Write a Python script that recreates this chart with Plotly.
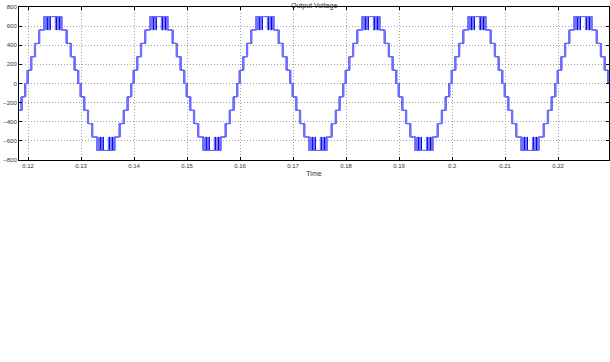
import plotly.graph_objects as go

# ---- data ----
levels = [0, 140, 280, 420, 560, 700]            # staircase levels (V)
switch_angles_deg = [6, 18, 31, 45, 63]           # up-switching angles in first quarter
cycle_starts = [0.0997, 0.1197, 0.1397, 0.1597, 0.1797, 0.1997, 0.2197]  # rising zero crossings (s)
period = 0.02

light_edge_pulses = [(-4.0, -3.5), (-1.8, -1.4)]   # deg, relative to each edge
dark_edge_pulses = [(-2.6, -2.3)]
light_plateau_dips = [(67, 68), (75, 76), (98, 99), (107, 108)]
dark_plateau_dips = [(70, 71), (80, 81), (102, 103), (111, 112)]

xticks = [0.12, 0.13, 0.14, 0.15, 0.16, 0.17, 0.18, 0.19, 0.20, 0.21, 0.22]
xtick_text = ["0.12", "0.13", "0.14", "0.15", "0.16", "0.17", "0.18", "0.19", "0.2", "0.21", "0.22"]
yticks = [-800, -600, -400, -200, 0, 200, 400, 600, 800]


def level_at(angle, edge_pulses, dips):
    """Staircase level (index) at angle within a half cycle (0..180)."""
    a = angle if angle <= 90 else 180 - angle
    k = 0
    for i, sa in enumerate(switch_angles_deg):
        if a >= sa:
            k = i + 1
        else:
            for p0, p1 in edge_pulses:
                if sa + p0 <= a < sa + p1:
                    k = i + 1
                    break
    if k == len(switch_angles_deg):
        for d0, d1 in dips:
            if d0 <= angle < d1:
                k -= 1
                break
    return k


def build(edge_pulses, dips):
    deg = period / 360.0
    marks = set()
    for sa in switch_angles_deg:
        marks.update([sa, 180 - sa])
        for p0, p1 in edge_pulses:
            marks.update([sa + p0, sa + p1, 180 - sa - p0, 180 - sa - p1])
    for d0, d1 in dips:
        marks.update([d0, d1])
    marks.update([0, 180])
    marks = sorted(m for m in marks if 0 <= m <= 180)
    xs, ys = [], []
    for c in cycle_starts:
        for half, sign in ((0, 1), (1, -1)):
            for i, m in enumerate(marks):
                if m >= 180:
                    continue
                nxt = marks[i + 1] if i + 1 < len(marks) else 180
                k = level_at((m + nxt) / 2, edge_pulses, dips)
                xs.append(c + (half * 180 + m) * deg)
                ys.append(sign * levels[k])
    return xs, ys


dx, dy = build(dark_edge_pulses, dark_plateau_dips)
lx, ly = build(light_edge_pulses, light_plateau_dips)

fig = go.Figure()
fig.add_trace(go.Scatter(x=dx, y=dy, mode="lines", line=dict(color="#0000ee", width=1, shape="hv"),
                         showlegend=False, hoverinfo="skip"))
fig.add_trace(go.Scatter(x=lx, y=ly, mode="lines", line=dict(color="#7070ff", width=1, shape="hv"),
                         showlegend=False, hoverinfo="skip"))

font_family = "Liberation Sans, Arial, sans-serif"
axis_common = dict(
    showline=True, linecolor="#000000", linewidth=1, mirror="ticks",
    ticks="inside", ticklen=3, tickcolor="#000000",
    showgrid=True, gridcolor="#a0a0a0", griddash="1px,2px", gridwidth=1,
    zeroline=False, tickfont=dict(family=font_family, size=6, color="#333333"),
)

fig.update_layout(
    width=610, height=362,
    margin=dict(l=19, r=1, t=7, b=202),
    paper_bgcolor="white", plot_bgcolor="white",
    title=dict(text="Output Voltage", x=0.515, xanchor="center", y=0.992, yanchor="top",
               font=dict(family=font_family, size=7, color="#333333")),
    xaxis=dict(range=[0.1183, 0.2296], tickvals=xticks, ticktext=xtick_text,
               title=dict(text="Time", standoff=2, font=dict(family=font_family, size=7, color="#333333")),
               **axis_common),
    yaxis=dict(range=[-800, 800], tickvals=yticks, **axis_common),
)

fig.write_html("out.html")
